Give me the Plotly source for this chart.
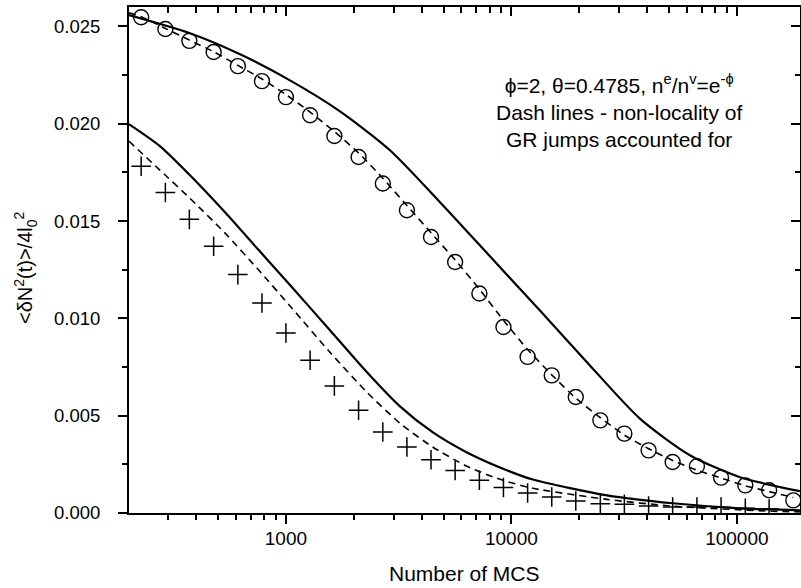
import plotly.graph_objects as go

# ---- data ----
mcs_points = [228, 292, 373, 478, 612, 783, 1000, 1280, 1640, 2100, 2690, 3440, 4400, 5630,
              7210, 9220, 11800, 15100, 19300, 24800, 31700, 40600, 51900, 66500, 85100,
              109000, 139000, 178000]

circles_y = [0.02547, 0.02487, 0.02426, 0.02369, 0.02296, 0.02219, 0.02137, 0.02044, 0.01937,
             0.01829, 0.01693, 0.01556, 0.01418, 0.01290, 0.01128, 0.00956, 0.00802, 0.00707,
             0.00596, 0.00476, 0.00408, 0.00322, 0.00262, 0.00240, 0.00182, 0.00142, 0.00117,
             0.00065]

crosses_y = [0.01782, 0.01647, 0.01509, 0.01371, 0.01225, 0.01079, 0.00925, 0.00785, 0.00653,
             0.00528, 0.00416, 0.00339, 0.00274, 0.00219, 0.00168, 0.00131, 0.00103, 0.00082,
             0.00062, 0.00048, 0.00045, 0.00036, 0.00031, 0.00031, 0.00030, 0.00024, 0.00020]

upper_solid_x = [201, 375, 626, 1042, 1737, 2893, 4823, 8034, 13385, 22300, 37150, 61900,
                 103150, 190400]
upper_solid_y = [0.02558, 0.02465, 0.02357, 0.02223, 0.02064, 0.01864, 0.01597, 0.01319,
                 0.01040, 0.00758, 0.00485, 0.00297, 0.00184, 0.00112]

upper_dash_x = [201, 228, 292, 373, 478, 612, 783, 1000, 1280, 1640, 2100, 2690, 3440, 4400,
                5630, 7210, 9220, 11800, 15100, 19300, 24800, 31700, 40600, 51900, 66500,
                85100, 109000, 139000, 178000]
upper_dash_y = [0.0257, 0.0255, 0.0249, 0.0243, 0.0237, 0.0230, 0.0223, 0.0215, 0.0206, 0.0196,
                0.0185, 0.0172, 0.0158, 0.0144, 0.0130, 0.0115, 0.0099, 0.0084, 0.0071, 0.0059,
                0.0049, 0.0040, 0.0033, 0.0027, 0.0022, 0.0018, 0.0014, 0.0011, 0.0008]

lower_solid_x = [201, 276, 383, 537, 752, 1064, 1568, 2288, 3204, 4488, 6353, 8897, 12460,
                 26530, 52040, 103150, 190400]
lower_solid_y = [0.01998, 0.01885, 0.01725, 0.01545, 0.01355, 0.01160, 0.00939, 0.00723,
                 0.00548, 0.00414, 0.00311, 0.00234, 0.00172, 0.00091, 0.00050, 0.00024, 0.00014]

lower_dash_x = [201, 276, 383, 537, 752, 1064, 1568, 2288, 3204, 4488, 6353, 8897, 12460,
                26530, 52040, 144500, 190400]
lower_dash_y = [0.01911, 0.01762, 0.01607, 0.01438, 0.01252, 0.01052, 0.00826, 0.00620,
                0.00461, 0.00338, 0.00240, 0.00173, 0.00127, 0.00070, 0.00035, 0.00009, 0.00006]

FONT = "Liberation Sans, Arial, sans-serif"

fig = go.Figure()

for xs, ys in [(upper_solid_x, upper_solid_y), (lower_solid_x, lower_solid_y)]:
    fig.add_trace(go.Scatter(x=xs, y=ys, mode="lines", showlegend=False, hoverinfo="skip",
                             line=dict(color="black", width=2.2, shape="spline", smoothing=0.7)))
for xs, ys in [(upper_dash_x, upper_dash_y), (lower_dash_x, lower_dash_y)]:
    fig.add_trace(go.Scatter(x=xs, y=ys, mode="lines", showlegend=False, hoverinfo="skip",
                             line=dict(color="black", width=1.6, dash="7px,5px",
                                       shape="spline", smoothing=0.6)))

fig.add_trace(go.Scatter(x=mcs_points, y=circles_y, mode="markers", showlegend=False,
                         marker=dict(symbol="circle-open", size=15, color="black",
                                     line=dict(width=1.4, color="black"))))
fig.add_trace(go.Scatter(x=mcs_points[:len(crosses_y)], y=crosses_y, mode="markers",
                         showlegend=False,
                         marker=dict(symbol="cross-thin-open", size=14, color="black",
                                     line=dict(width=1.5, color="black"))))

# dummy trace so the mirrored (top/right) axes are drawn
fig.add_trace(go.Scatter(x=[1000], y=[0.01], xaxis="x2", yaxis="y2", mode="markers",
                         marker=dict(opacity=0), hoverinfo="skip", showlegend=False))

XR = [2.304, 5.280]
YR = [0, 0.026]

common_x = dict(type="log", range=XR, showline=True, linewidth=2, linecolor="black",
                tickwidth=2, tickcolor="black", ticklen=9, dtick=1, showgrid=False,
                zeroline=False)
fig.update_layout(
    width=801, height=588,
    margin=dict(l=129, r=1, t=7, b=75),
    paper_bgcolor="white", plot_bgcolor="white",
    font=dict(family=FONT, color="black"),
    hovermode=False,
    xaxis=dict(**common_x, ticks="outside", tickformat="d",
               tickfont=dict(size=19, family=FONT), ticklabelstandoff=-2,
               minor=dict(ticks="outside", ticklen=5, tickwidth=1.5, tickcolor="black",
                          dtick="D1", showgrid=False)),
    xaxis2=dict(**common_x, overlaying="x", side="top", anchor="y", ticks="inside",
                showticklabels=False,
                minor=dict(ticks="inside", ticklen=6, tickwidth=1.5, tickcolor="black",
                           dtick="D1", showgrid=False)),
    yaxis=dict(range=YR, showline=True, linewidth=2, linecolor="black", ticks="outside",
               ticklen=9, tickwidth=2, tickcolor="black", dtick=0.005, tickformat=".3f",
               showgrid=False, zeroline=False, tickfont=dict(size=18.5, family=FONT),
               ticklabelstandoff=14,
               minor=dict(ticks="outside", ticklen=5, tickwidth=1.5, tickcolor="black",
                          dtick=0.0025, showgrid=False)),
    yaxis2=dict(range=YR, overlaying="y", side="right", anchor="x", showline=True,
                linewidth=2, linecolor="black", ticks="inside", ticklen=9, tickwidth=2,
                tickcolor="black", dtick=0.005, showticklabels=False, showgrid=False,
                zeroline=False,
                minor=dict(ticks="inside", ticklen=5, tickwidth=1.5, tickcolor="black",
                           dtick=0.0025, showgrid=False)),
)

fig.add_annotation(xref="paper", yref="paper", x=0.5, y=(513 - 573) / 506,
                   text="Number of MCS", showarrow=False, xanchor="center", yanchor="middle",
                   font=dict(size=21, family=FONT, color="black"))

fig.add_annotation(xref="paper", yref="paper", x=(25 - 129) / 671, y=(513 - 268) / 506,
                   text="&lt;δN<sup>2</sup>(t)&gt;/4l<sub>0</sub><sup>2</sup>",
                   textangle=-90, showarrow=False, xanchor="center", yanchor="middle",
                   font=dict(size=20, family=FONT, color="black"))

fig.add_annotation(xref="paper", yref="paper", x=(619 - 129) / 671, y=(513 - 111) / 506,
                   text="ϕ=2, θ=0.4785, n<sup>e</sup>/n<sup>v</sup>=e<sup>-ϕ</sup><br>"
                        "Dash lines - non-locality of<br>GR jumps accounted for",
                   showarrow=False, xanchor="center", yanchor="middle", align="center",
                   font=dict(size=21, family=FONT, color="black"))

fig.write_html("out.html", config={"displayModeBar": False},
               post_script="document.body.style.margin='0';")
